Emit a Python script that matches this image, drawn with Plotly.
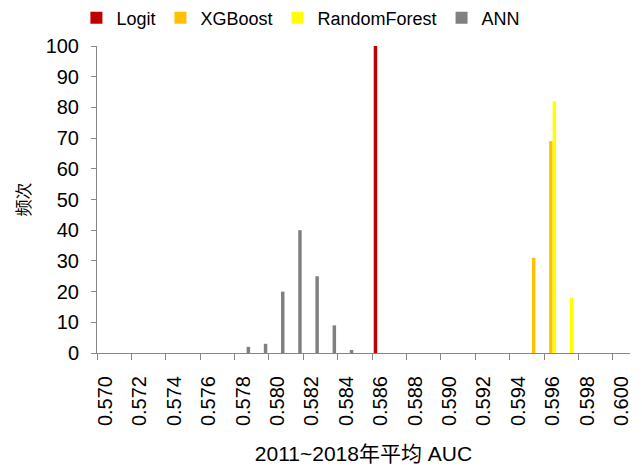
import plotly.graph_objects as go

# Data (bins of AUC, counts)
logit_x = [0.586]
logit_y = [100]
xgb_x = [0.595, 0.596]
xgb_y = [31, 69]
rf_x = [0.596, 0.597]
rf_y = [82, 18]
ann_x = [0.578, 0.579, 0.580, 0.581, 0.582, 0.583, 0.584]
ann_y = [2, 3, 20, 40, 25, 9, 1]

tick_vals = [0.570, 0.572, 0.574, 0.576, 0.578, 0.580, 0.582, 0.584,
             0.586, 0.588, 0.590, 0.592, 0.594, 0.596, 0.598, 0.600]
tick_labels = ["0.570", "0.572", "0.574", "0.576", "0.578", "0.580", "0.582", "0.584",
               "0.586", "0.588", "0.590", "0.592", "0.594", "0.596", "0.598", "0.600"]
boundary_ticks = [v - 0.0005 for v in tick_vals]

series = [
    ("Logit", logit_x, logit_y, "#C00000"),
    ("XGBoost", xgb_x, xgb_y, "#FFC000"),
    ("RandomForest", rf_x, rf_y, "#FFFF00"),
    ("ANN", ann_x, ann_y, "#808080"),
]

fig = go.Figure()
for name, xs, ys, col in series:
    fig.add_trace(go.Bar(x=xs, y=ys, name=name, marker=dict(color=col, line=dict(width=0))))

font = "Liberation Sans, Arial, Noto Sans CJK SC, sans-serif"
cjk = "Liberation Sans, Noto Sans CJK SC, sans-serif"

# page body has an 8px margin; figure sized so the visible frame is 642x468
fig.update_layout(
    width=634, height=460,
    template="none",
    paper_bgcolor="white", plot_bgcolor="white",
    margin=dict(l=89, r=12, t=38, b=115, autoexpand=False),
    barmode="group", bargap=0.19, bargroupgap=0,
    font=dict(family=font, size=18, color="#000000"),
    showlegend=True,
    legend=dict(orientation="h", xref="container", yref="container",
                x=0.462, xanchor="center", y=0.978, yanchor="middle",
                font=dict(size=18), itemwidth=30, bgcolor="rgba(0,0,0,0)"),
    xaxis=dict(
        range=[0.5695, 0.6005], tickmode="array", tickvals=tick_vals, ticktext=tick_labels,
        tickangle=-90, ticks="", showgrid=False, zeroline=False,
        showline=True, linecolor="#868686", linewidth=1,
        tickfont=dict(size=20), ticklabelstandoff=14,
        minor=dict(tickmode="array", tickvals=boundary_ticks, ticks="outside",
                   ticklen=6, tickcolor="#868686", tickwidth=1, showgrid=False),
        title=dict(text="2011~2018年平均 AUC", font=dict(family=cjk, size=21), standoff=21),
        automargin=False,
    ),
    yaxis=dict(
        range=[0, 100], tickmode="linear", tick0=0, dtick=10,
        ticks="outside", ticklen=5, tickcolor="#868686",
        showgrid=False, zeroline=False,
        showline=True, linecolor="#868686", linewidth=1,
        tickfont=dict(size=20), ticklabelstandoff=8,
        title=dict(text="频次", font=dict(family="Noto Sans CJK SC", size=17), standoff=10),
        automargin=False,
    ),
)

fig.write_html("out.html")
